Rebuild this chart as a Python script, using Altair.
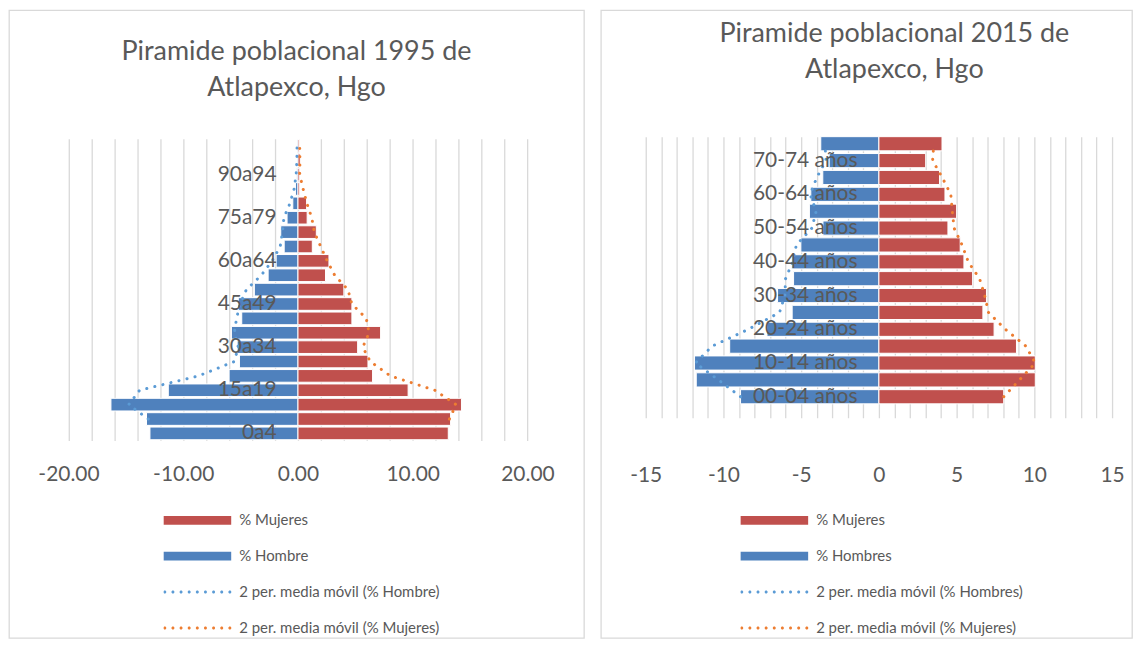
import altair as alt
import pandas as pd

# ---------------- data ----------------
grupos_1995 = ["0a4", "5a9", "10a14", "15a19", "20a24", "25a29", "30a34", "35a39",
               "40a44", "45a49", "50a54", "55a59", "60a64", "65a69", "70a74", "75a79",
               "80a84", "85a89", "90a94", "95a99", "100 y más"]
hombre_1995 = [12.9, 13.2, 16.3, 11.3, 6.0, 5.1, 5.3, 5.8, 4.9, 5.2, 3.8, 2.6, 1.9,
               1.2, 1.5, 0.95, 0.45, 0.22, 0.1, 0.08, 0.08]
mujeres_1995 = [13.1, 13.3, 14.25, 9.6, 6.5, 6.1, 5.2, 7.2, 4.7, 4.7, 4.0, 2.4, 2.7,
                1.25, 1.6, 0.8, 0.75, 0.15, 0.15, 0.2, 0.1]
etiquetas_1995 = ["0a4", "15a19", "30a34", "45a49", "60a64", "75a79", "90a94"]

grupos_2015 = ["00-04 años", "05-09 años", "10-14 años", "15-19 años", "20-24 años",
               "25-29 años", "30-34 años", "35-39 años", "40-44 años", "45-49 años",
               "50-54 años", "55-59 años", "60-64 años", "65-69 años", "70-74 años",
               "75 y más años"]
hombres_2015 = [8.9, 11.75, 11.86, 9.6, 7.2, 5.58, 6.52, 5.49, 5.6, 5.02, 3.6, 4.47,
                4.38, 3.61, 3.2, 3.74]
mujeres_2015 = [8.03, 10.06, 10.06, 8.85, 7.41, 6.69, 6.92, 6.03, 5.47, 5.23, 4.44,
                5.0, 4.25, 3.9, 3.01, 4.06]
etiquetas_2015 = ["00-04 años", "10-14 años", "20-24 años", "30-34 años", "40-44 años",
                  "50-54 años", "60-64 años", "70-74 años"]

series_1995 = ["% Mujeres", "% Hombre", "2 per. media móvil (% Hombre)",
               "2 per. media móvil (% Mujeres)"]
series_2015 = ["% Mujeres", "% Hombres", "2 per. media móvil (% Hombres)",
               "2 per. media móvil (% Mujeres)"]

ticks_1995 = list(range(-20, 21, 2))
ticks_2015 = list(range(-15, 16, 1))

# ---------------- styles ----------------
ROJO = "#C0504D"
AZUL = "#4F81BD"
AZUL_MA = "#5B9BD5"
NARANJA = "#ED7D31"
GRIS_TXT = "#595959"
GRIS_LIN = "#D9D9D9"
FUENTE = "Lato"

RECT_PATH = "M-1,-0.13H1V0.13H-1Z"


def dots_path(n=9, r=0.045):
    parts = []
    for k in range(n):
        cx = -0.96 + k * (1.92 / (n - 1))
        parts.append(f"M{cx - r:.3f},0a{r},{r} 0 1,0 {2 * r},0a{r},{r} 0 1,0 {-2 * r},0Z")
    return "".join(parts)


DOTS_PATH = dots_path()


def largo(grupos, hombres, mujeres, h_name, m_name):
    rows = []
    for i, (g, h, m) in enumerate(zip(grupos, hombres, mujeres)):
        rows.append({"idx": i, "grupo": g, "sexo": h_name, "valor": -h})
        rows.append({"idx": i, "grupo": g, "sexo": m_name, "valor": m})
    return pd.DataFrame(rows)


def panel(df, grupos, etiquetas, ticks, dom_x, xrange, yscale_kw, series, zero_rel,
          x_axis_y, label_expr, ma_min, title_lines, title_off, title_dx,
          leg_x, leg_y, width, height):
    color_scale = alt.Scale(domain=series, range=[ROJO, AZUL, AZUL_MA, NARANJA])
    xscale = alt.Scale(domain=dom_x, range=xrange, nice=False, zero=False)
    yscale = alt.Scale(domain=list(reversed(grupos)), **yscale_kw)
    # top-oriented axis moved down into the panel: grid stays on the band range
    xaxis = alt.Axis(orient="top", values=ticks, grid=True, gridColor=GRIS_LIN,
                     gridWidth=1.3, domain=False, ticks=False, tickSize=0,
                     labelExpr=label_expr, labelFont=FUENTE, labelFontSize=21,
                     labelColor=GRIS_TXT, labelPadding=0, labelOverlap=False,
                     labelFlush=False, offset=-x_axis_y, title=None)
    yaxis = alt.Axis(values=etiquetas, domain=False, ticks=False, tickSize=0, grid=False,
                     labelFont=FUENTE, labelFontSize=21, labelColor=GRIS_TXT,
                     labelPadding=22, labelOverlap=False, offset=-zero_rel,
                     title=None, zindex=1)
    leyenda_kw = dict(orient="none", legendX=leg_x, legendY=leg_y, direction="vertical",
                      symbolSize=4624, symbolStrokeWidth=0, symbolOpacity=1,
                      labelFont=FUENTE, labelFontSize=15, labelColor=GRIS_TXT,
                      labelOffset=8, clipHeight=16, rowPadding=20, padding=0,
                      labelLimit=400)
    # legend carrier (first layer so its legend wins the merge): invisible points
    leyenda = alt.Chart(pd.DataFrame({"serie": series})).mark_point(
        filled=True, opacity=0
    ).encode(
        color=alt.Color("serie:N", scale=color_scale, title="",
                        legend=alt.Legend(**leyenda_kw)),
        shape=alt.Shape("serie:N", title="",
                        scale=alt.Scale(domain=series,
                                        range=[RECT_PATH, RECT_PATH, DOTS_PATH, DOTS_PATH]),
                        legend=alt.Legend(**leyenda_kw)),
    )
    base = alt.Chart(df)
    barras = base.mark_bar(stroke="white", strokeWidth=1).encode(
        x=alt.X("valor:Q", scale=xscale, axis=xaxis),
        y=alt.Y("grupo:N", scale=yscale, axis=yaxis),
        color=alt.Color("sexo:N", scale=color_scale),
    )
    media = base.transform_window(
        ma="mean(valor)", frame=[-1, 0], sort=[alt.SortField("idx")], groupby=["sexo"]
    ).transform_filter(
        alt.datum.idx >= ma_min
    ).transform_calculate(
        serie='"2 per. media móvil (" + datum.sexo + ")"'
    ).mark_line(strokeDash=[0.1, 8.2], strokeCap="round", strokeWidth=3).encode(
        x=alt.X("ma:Q", scale=xscale, axis=xaxis),
        y=alt.Y("grupo:N", scale=yscale, axis=yaxis),
        color=alt.Color("serie:N", scale=color_scale),
        order=alt.Order("idx:Q"),
    )
    return alt.layer(leyenda, barras, media).properties(
        width=width, height=height,
        title=alt.TitleParams(text=title_lines, font=FUENTE, fontSize=27,
                              fontWeight="normal", color=GRIS_TXT, lineHeight=36,
                              anchor="middle", frame="group", offset=title_off,
                              dx=title_dx),
    )


H = 630
df95 = largo(grupos_1995, hombre_1995, mujeres_1995, "% Hombre", "% Mujeres")
df15 = largo(grupos_2015, hombres_2015, mujeres_2015, "% Hombres", "% Mujeres")

izq = panel(
    df95, grupos_1995, etiquetas_1995, ticks_1995, [-20, 20], [59.7, 520.3],
    dict(range=[129, 432], paddingInner=0.12, paddingOuter=0.06),
    series_1995, 290, 476,
    "datum.value % 10 == 0 ? (datum.value < 0 ? '-' : '') + format(abs(datum.value), '.2f') : ''",
    1, ["Piramide poblacional 1995 de", "Atlapexco, Hgo"], -92, 0,
    155, 504, 577, H,
)
der = panel(
    df15, grupos_2015, etiquetas_2015, ticks_2015, [-15, 15], [45, 513],
    dict(range=[127, 409], paddingInner=0.16, paddingOuter=0.41, align=0),
    series_2015, 279, 477,
    "datum.value % 5 == 0 ? (datum.value < 0 ? '-' : '') + format(abs(datum.value), 'd') : ''",
    0, ["Piramide poblacional 2015 de", "Atlapexco, Hgo"], -74, 28,
    140, 504, 533, H,
)

chart = alt.hconcat(izq, der, spacing=15).resolve_scale(
    color="independent", shape="independent"
).resolve_legend(
    color="independent", shape="independent"
).properties(
    padding=0, background="white"
).configure_view(stroke=GRIS_LIN, strokeWidth=1.3)

chart.save("out.html", embed_options={"renderer": "svg", "actions": False})
